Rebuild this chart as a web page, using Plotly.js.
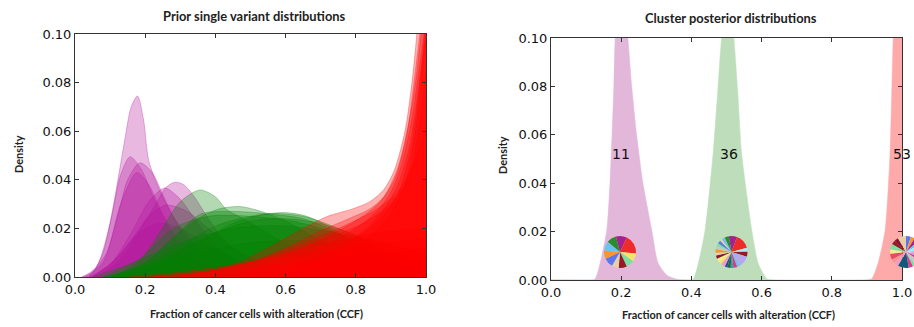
<!DOCTYPE html>
<html>
<head>
<meta charset="utf-8">
<script src="https://cdn.plot.ly/plotly-3.0.1.min.js"></script>
<style>
  html, body { margin: 0; padding: 0; background: #ffffff; overflow: hidden; }
  #chart { width: 930px; height: 327px; }
</style>
</head>
<body>
<div id="chart"></div>
<script>
// ---- Prior single variant distributions (knots of each density curve) ----
const purpleX = [
  [0.02, 0.05, 0.08, 0.11, 0.14, 0.16, 0.178, 0.195, 0.21, 0.24, 0.28, 0.34, 0.42, 0.55, 0.7],
  [0.02, 0.06, 0.10, 0.13, 0.157, 0.19, 0.22, 0.26, 0.30, 0.36, 0.45, 0.6],
  [0.03, 0.08, 0.12, 0.15, 0.185, 0.22, 0.25, 0.29, 0.34, 0.40, 0.50, 0.65],
  [0.04, 0.09, 0.13, 0.176, 0.21, 0.25, 0.30, 0.36, 0.45, 0.6],
  [0.06, 0.12, 0.18, 0.23, 0.26, 0.285, 0.31, 0.34, 0.38, 0.44, 0.52, 0.65, 0.8],
  [0.05, 0.10, 0.16, 0.21, 0.256, 0.30, 0.35, 0.42, 0.50, 0.65],
  [0.04, 0.10, 0.16, 0.21, 0.26, 0.32, 0.38, 0.45, 0.55, 0.7, 0.85],
  [0.05, 0.12, 0.18, 0.24, 0.30, 0.38, 0.48, 0.6, 0.8]
];
const purpleY = [
  [0, 0.002, 0.010, 0.030, 0.055, 0.070, 0.0745, 0.065, 0.048, 0.036, 0.025, 0.014, 0.006, 0.001, 0],
  [0, 0.004, 0.022, 0.042, 0.0495, 0.044, 0.034, 0.022, 0.013, 0.006, 0.002, 0],
  [0, 0.006, 0.024, 0.040, 0.047, 0.043, 0.034, 0.022, 0.012, 0.005, 0.001, 0],
  [0, 0.010, 0.030, 0.043, 0.038, 0.026, 0.014, 0.006, 0.002, 0],
  [0, 0.006, 0.018, 0.030, 0.037, 0.039, 0.038, 0.033, 0.024, 0.013, 0.005, 0.001, 0],
  [0, 0.005, 0.018, 0.031, 0.0366, 0.032, 0.022, 0.010, 0.003, 0],
  [0, 0.005, 0.015, 0.025, 0.0296, 0.027, 0.020, 0.012, 0.005, 0.001, 0],
  [0, 0.008, 0.018, 0.022, 0.020, 0.013, 0.006, 0.002, 0]
];
const greenX = [
  [0.10, 0.18, 0.24, 0.30, 0.356, 0.40, 0.43, 0.48, 0.55, 0.65, 0.8, 0.95],
  [0.10, 0.20, 0.28, 0.35, 0.41, 0.47, 0.53, 0.60, 0.70, 0.80, 0.95],
  [0.10, 0.20, 0.30, 0.40, 0.50, 0.60, 0.66, 0.72, 0.80, 0.90, 1.0],
  [0.10, 0.20, 0.30, 0.36, 0.45, 0.55, 0.65, 0.72, 0.80, 0.90, 1.0],
  [0.08, 0.18, 0.28, 0.38, 0.50, 0.62, 0.70, 0.80, 0.90, 1.0],
  [0.05, 0.15, 0.30, 0.45, 0.60, 0.75, 0.90, 1.0],
  [0.10, 0.25, 0.40, 0.50, 0.60, 0.70, 0.85, 1.0],
  [0.15, 0.30, 0.45, 0.55, 0.65, 0.75, 0.90, 1.0],
  [0.08, 0.20, 0.35, 0.50, 0.65, 0.80, 0.92, 1.0]
];
const greenY = [
  [0, 0.006, 0.018, 0.031, 0.0358, 0.033, 0.028, 0.024, 0.018, 0.010, 0.003, 0],
  [0, 0.006, 0.016, 0.024, 0.028, 0.029, 0.027, 0.023, 0.015, 0.008, 0.002],
  [0, 0.004, 0.013, 0.021, 0.025, 0.0265, 0.025, 0.021, 0.014, 0.007, 0.003],
  [0, 0.006, 0.019, 0.026, 0.027, 0.026, 0.024, 0.020, 0.014, 0.008, 0.004],
  [0, 0.007, 0.020, 0.025, 0.025, 0.023, 0.020, 0.015, 0.010, 0.006],
  [0, 0.005, 0.014, 0.020, 0.021, 0.018, 0.013, 0.010],
  [0, 0.008, 0.018, 0.023, 0.024, 0.022, 0.015, 0.009],
  [0, 0.010, 0.022, 0.026, 0.025, 0.020, 0.010, 0.005],
  [0, 0.004, 0.010, 0.014, 0.015, 0.013, 0.010, 0.008]
];
const redX = [
  [0.30, 0.45, 0.55, 0.65, 0.72, 0.79, 0.84, 0.88, 0.91, 0.94, 0.96, 0.98, 1.0],
  [0.35, 0.50, 0.60, 0.70, 0.78, 0.84, 0.88, 0.92, 0.95, 0.97, 0.99, 1.0],
  [0.40, 0.55, 0.65, 0.75, 0.82, 0.87, 0.91, 0.94, 0.97, 1.0],
  [0.45, 0.60, 0.70, 0.80, 0.86, 0.90, 0.93, 0.96, 0.98, 1.0],
  [0.50, 0.65, 0.75, 0.83, 0.88, 0.92, 0.95, 0.97, 0.99, 1.0],
  [0.30, 0.50, 0.65, 0.75, 0.85, 0.92, 0.96, 1.0],
  [0.25, 0.45, 0.60, 0.72, 0.82, 0.90, 0.95, 1.0],
  [0.20, 0.40, 0.60, 0.75, 0.90, 1.0],
  [0.60, 0.75, 0.85, 0.90, 0.94, 0.97, 1.0],
  [0.55, 0.70, 0.80, 0.87, 0.92, 0.96, 0.99, 1.0],
  [0.15, 0.30, 0.50, 0.70, 0.90, 1.0],
  [0.22, 0.40, 0.55, 0.70, 0.85, 1.0]
];
const redY = [
  [0, 0.005, 0.012, 0.020, 0.025, 0.028, 0.031, 0.036, 0.044, 0.060, 0.080, 0.110, 0.150],
  [0, 0.006, 0.012, 0.019, 0.024, 0.028, 0.033, 0.045, 0.063, 0.085, 0.110, 0.130],
  [0, 0.006, 0.012, 0.019, 0.025, 0.031, 0.040, 0.055, 0.080, 0.120],
  [0, 0.006, 0.012, 0.020, 0.027, 0.035, 0.046, 0.065, 0.085, 0.105],
  [0, 0.006, 0.012, 0.020, 0.028, 0.038, 0.052, 0.068, 0.090, 0.100],
  [0, 0.006, 0.014, 0.020, 0.027, 0.035, 0.045, 0.060],
  [0, 0.004, 0.010, 0.016, 0.022, 0.030, 0.040, 0.085],
  [0, 0.002, 0.005, 0.008, 0.010, 0.012],
  [0, 0.008, 0.018, 0.026, 0.038, 0.060, 0.100],
  [0, 0.008, 0.016, 0.024, 0.034, 0.055, 0.090, 0.110],
  [0, 0.002, 0.006, 0.010, 0.014, 0.016],
  [0, 0.003, 0.008, 0.013, 0.018, 0.020]
];

// ---- Cluster posterior distributions ----
const clusterPurpleX = [0, 0.10, 0.125, 0.14, 0.159, 0.168, 0.174, 0.179, 0.183, 0.20, 0.219, 0.23, 0.244, 0.262, 0.287, 0.305, 0.33, 0.36, 0.40, 1.0];
const clusterPurpleY = [0, 0, 0.0003, 0.007, 0.0207, 0.040, 0.060, 0.080, 0.100, 0.125, 0.100, 0.080, 0.060, 0.040, 0.0207, 0.007, 0.002, 0.0003, 0, 0];
const clusterGreenX = [0, 0.39, 0.405, 0.42, 0.439, 0.462, 0.475, 0.486, 0.505, 0.521, 0.532, 0.543, 0.572, 0.59, 0.615, 0.64, 1.0];
const clusterGreenY = [0, 0, 0.0003, 0.007, 0.0207, 0.0525, 0.078, 0.100, 0.120, 0.100, 0.078, 0.0525, 0.0207, 0.007, 0.0005, 0, 0];
const clusterRedX = [0, 0.90, 0.914, 0.932, 0.952, 0.966, 0.975, 0.99, 1.0];
const clusterRedY = [0, 0, 0.0005, 0.007, 0.0207, 0.0525, 0.100, 0.150, 0.180];

const clusterLabels = ["11", "36", "53"];
const clusterLabelX = [0.2, 0.507, 1.0];
const clusterLabelY = [0.052, 0.052, 0.052];

// Mutation composition of each cluster (slice sizes in degrees, clockwise from the top)
const pieOneValues = [40, 70, 30, 30, 30, 25, 35, 30, 35, 35];
const pieOneColors = ["#a3228f", "#ee2b2b", "#f4e46c", "#7ae0a2", "#961a26", "#e6d0a8", "#5c77ee", "#f7962a", "#6cc4ee", "#2d8a2d"];
const pieTwoValues = [30, 55, 14, 18, 40, 12, 14, 10, 12, 10, 16, 10, 14, 12, 10, 14, 12, 10, 12, 8, 12, 15];
const pieTwoColors = ["#a3228f", "#ee2b2b", "#9ff0f0", "#961a26", "#b4a8ee", "#6cc4ee", "#e8338e", "#2aa6a6", "#1f6b3a", "#2d4a9a", "#f49ac8", "#f4e46c", "#f2f08a", "#8a1530", "#e6d0a8", "#f7962a", "#c6c6c6", "#7ae0a2", "#5c77ee", "#e6d0a8", "#6cc4ee", "#2d8a2d"];
const pieThreeValues = [18, 14, 16, 14, 20, 16, 12, 14, 18, 12, 16, 40, 18, 14, 22, 16, 20, 14, 16, 30];
const pieThreeColors = ["#5c77ee", "#f7962a", "#a3228f", "#6cc4ee", "#9ff0f0", "#f49ac8", "#b4a8ee", "#e8338e", "#c6c6c6", "#7ae0a2", "#e8338e", "#0e5a7a", "#f49ac8", "#f29a8a", "#e84a6a", "#f2f08a", "#7ae0a2", "#961a26", "#8a1530", "#e6d0a8"];

const W = 930, H = 327;
const px = v => v / W;
const py = v => 1 - v / H;

const traces = [];
function addFamily(xs, ys, rgb) {
  for (let i = 0; i < xs.length; i++) {
    traces.push({
      type: "scatter", mode: "lines", x: xs[i], y: ys[i],
      xaxis: "x", yaxis: "y",
      fill: "tozeroy",
      fillcolor: "rgba(" + rgb + ",0.3)",
      line: { color: "rgba(" + rgb + ",0.3)", width: 1, shape: "spline", smoothing: 0.8 },
      hoverinfo: "skip", showlegend: false
    });
  }
}
addFamily(purpleX, purpleY, "178,20,155");
addFamily(greenX, greenY, "0,128,0");
addFamily(redX, redY, "255,0,0");

function addCluster(x, y, color) {
  traces.push({
    type: "scatter", mode: "lines", x: x, y: y,
    xaxis: "x2", yaxis: "y2",
    fill: "tozeroy", fillcolor: color,
    line: { color: color, width: 0.5, shape: "spline", smoothing: 0.6 },
    hoverinfo: "skip", showlegend: false
  });
}
addCluster(clusterPurpleX, clusterPurpleY, "rgb(226,183,218)");
addCluster(clusterGreenX, clusterGreenY, "rgb(190,222,187)");
addCluster(clusterRedX, clusterRedY, "rgb(255,170,170)");

function addPie(values, colors, cx, cy, rot) {
  traces.push({
    type: "pie", values: values, sort: false, direction: "clockwise", rotation: rot,
    marker: { colors: colors, line: { width: 0 } },
    textinfo: "none", hoverinfo: "skip", showlegend: false,
    domain: { x: [px(cx - 16), px(cx + 16)], y: [py(cy + 16), py(cy - 16)] }
  });
}
addPie(pieOneValues, pieOneColors, 620, 252, -15);
addPie(pieTwoValues, pieTwoColors, 731.5, 252, -10);
addPie(pieThreeValues, pieThreeColors, 906, 252, 0);

const tickFont = { family: "DejaVu Sans", size: 13, color: "#111" };
function axis(domain, range, dtick, fmt, anchor) {
  return {
    domain: domain, range: range, dtick: dtick, tick0: 0, tickformat: fmt,
    showgrid: false, zeroline: false, showline: true, mirror: "ticks",
    linecolor: "#333", linewidth: 1, ticks: "inside", ticklen: 4, tickcolor: "#333",
    tickfont: tickFont, anchor: anchor, fixedrange: true, automargin: false
  };
}

const titleFont = { family: "Lato", size: 12.9, color: "#222", weight: "bold" };
const labelFont = { family: "Lato", size: 10.9, color: "#222", weight: "bold" };
const annotations = [
  { text: "Prior single variant distributions", x: px(254), y: py(15.5), font: titleFont },
  { text: "Cluster posterior distributions", x: px(731), y: py(17.5), font: titleFont },
  { text: "Fraction of cancer cells with alteration (CCF)", x: px(256), y: py(313), font: labelFont },
  { text: "Fraction of cancer cells with alteration (CCF)", x: px(728), y: py(314), font: labelFont },
  { text: "Density", x: px(18), y: py(154), font: labelFont, textangle: -90 },
  { text: "Density", x: px(502), y: py(155), font: labelFont, textangle: -90 }
].map(a => Object.assign({ xref: "paper", yref: "paper", showarrow: false, xanchor: "center", yanchor: "middle" }, a));

for (let i = 0; i < clusterLabels.length; i++) {
  annotations.push({
    text: clusterLabels[i], x: clusterLabelX[i], y: clusterLabelY[i],
    xref: "x2", yref: "y2", showarrow: false, xanchor: "center", yanchor: "middle",
    font: { family: "DejaVu Sans", size: 14, color: "#111" }
  });
}

const layout = {
  width: W, height: H,
  margin: { l: 0, r: 0, t: 0, b: 0, pad: 0 },
  paper_bgcolor: "#ffffff", plot_bgcolor: "#ffffff",
  showlegend: false,
  xaxis: axis([px(75), px(426)], [0, 1], 0.2, ".1f", "y"),
  yaxis: axis([py(277), py(34)], [0, 0.1], 0.02, ".2f", "x"),
  xaxis2: axis([px(551), px(902)], [0, 1], 0.2, ".1f", "y2"),
  yaxis2: axis([py(280), py(38)], [0, 0.1], 0.02, ".2f", "x2"),
  annotations: annotations
};

Plotly.newPlot("chart", traces, layout, { staticPlot: true, displayModeBar: false, responsive: false });
</script>
</body>
</html>
